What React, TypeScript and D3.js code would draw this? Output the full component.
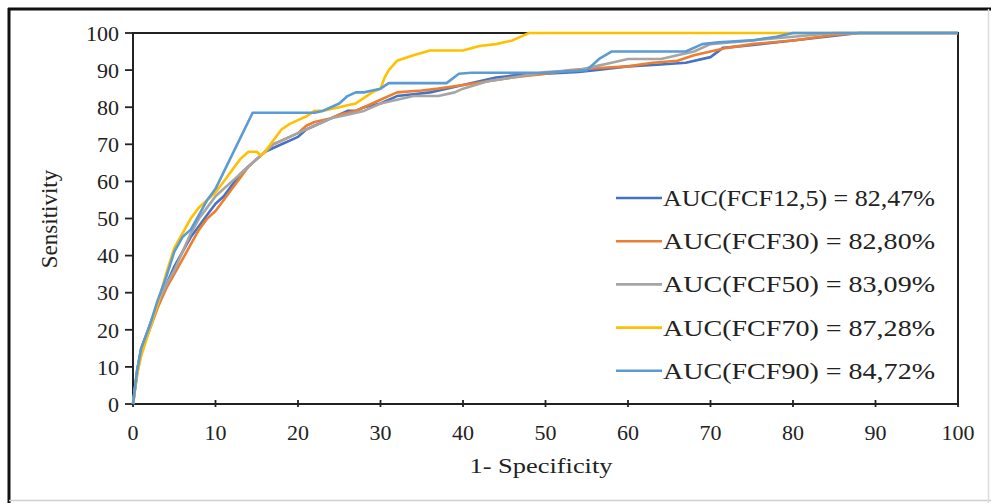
import React from "react";
import * as d3 from "d3";

const xTicks = [0, 10, 20, 30, 40, 50, 60, 70, 80, 90, 100];
const yTicks = [0, 10, 20, 30, 40, 50, 60, 70, 80, 90, 100];

const seriesNames = [
  "AUC(FCF12,5) = 82,47%",
  "AUC(FCF30) = 82,80%",
  "AUC(FCF50) = 83,09%",
  "AUC(FCF70) = 87,28%",
  "AUC(FCF90) = 84,72%",
];
const seriesColors = ["#4472C4", "#ED7D31", "#A5A5A5", "#FFC000", "#5B9BD5"];

const fcf125: [number, number][] = [
  [0, 0], [0.5, 9], [1, 15], [2, 21], [3, 27], [4, 32], [5, 37], [6, 41], [7, 45], [8, 48], [9, 51], [10, 54],
  [11, 56], [12, 59], [13, 62], [14, 64], [15, 66], [16, 68], [17, 69], [18, 70], [19, 71], [20, 72], [21, 74],
  [22, 75], [23, 76], [24, 77], [25, 78], [26, 79], [27, 79], [28, 80], [30, 81], [32, 83], [34, 83.5], [36, 84],
  [38, 85], [40, 86], [42, 87], [44, 88], [46, 88.5], [50, 89], [54, 89.5], [56, 90], [60, 91], [64, 91.5],
  [67, 92], [70, 93.5], [71.5, 96], [74, 96.5], [76, 97], [80, 98], [84, 99], [88, 100], [100, 100],
];
const fcf30: [number, number][] = [
  [0, 0], [0.5, 8], [1, 14], [2, 20], [3, 26], [4, 31], [5, 35], [6, 39], [7, 43], [8, 47], [9, 50], [10, 52],
  [11, 55], [12, 58], [13, 61], [14, 64], [15, 66], [16, 68], [17, 70], [18, 71], [19, 72], [20, 73], [21, 75],
  [22, 76], [24, 77], [25, 78], [27, 79], [28, 80], [30, 82], [32, 84], [35, 84.5], [37, 85], [40, 86], [43, 87],
  [46, 88], [50, 89], [53, 90], [56, 90.5], [60, 91], [63, 92], [66, 92.5], [68, 94], [70, 95], [72, 96],
  [75, 97], [80, 98], [85, 99.5], [88, 100], [100, 100],
];
const fcf50: [number, number][] = [
  [0, 0], [0.5, 9], [1, 15], [2, 21], [3, 27], [4, 32], [5, 36], [6, 41], [7, 46], [8, 50], [9, 53], [10, 56],
  [11, 58], [12, 60], [13, 62], [14, 64], [15, 66], [16, 68], [17, 70], [18, 71], [20, 73], [22, 75], [24, 77],
  [26, 78], [28, 79], [30, 81], [32, 82], [34, 83], [37, 83], [39, 84], [40, 85], [43, 87], [46, 88], [50, 89.5],
  [54, 90], [56, 91], [58, 92], [60, 93], [64, 93], [66, 94], [68, 95], [70, 97], [75, 98], [80, 99], [85, 100],
  [100, 100],
];
const fcf70: [number, number][] = [
  [0, 0], [0.5, 8], [1, 13], [2, 20], [3, 27], [4, 35], [5, 42], [6, 46], [7, 50], [8, 53], [9, 55], [10, 57],
  [11, 60], [12, 63], [13, 66], [14, 68], [15, 68], [15.5, 67], [16, 68], [17, 71], [18, 74], [19, 75.5],
  [20, 76.5], [21, 77.5], [22, 79], [23, 79], [24, 79.5], [25, 80], [26, 80.5], [27, 81], [28, 82.5], [29, 84],
  [30, 85], [30.5, 88], [31, 90], [32, 92.5], [34, 94], [36, 95.3], [40, 95.3], [42, 96.5], [44, 97], [46, 98],
  [48, 100], [100, 100],
];
const fcf90: [number, number][] = [
  [0, 0], [0.5, 9], [1, 15], [2, 21], [3, 28], [4, 34], [5, 41], [6, 45], [7, 47], [8, 51], [9, 55], [10, 58],
  [14.5, 78.5], [22, 78.5], [23, 79], [24, 80], [25, 81], [26, 83], [27, 84],
  [28, 84], [29, 84.5], [30, 85], [31, 86.5], [38, 86.5], [39.5, 89], [41, 89.3], [50, 89.3], [55, 90],
  [56.5, 93], [58, 95], [67, 95], [69, 97], [71, 97.5], [75, 98], [78, 99], [80, 100], [100, 100],
];
const seriesData = [fcf125, fcf30, fcf50, fcf70, fcf90];

const W = 991;
const H = 503;
const M = { left: 133, right: 958, top: 33, bottom: 404 };
const FONT = "Liberation Serif, Times New Roman, Times, serif";

export default function App() {
  const x = d3.scaleLinear().domain([0, 100]).range([M.left, M.right]);
  const y = d3.scaleLinear().domain([0, 100]).range([M.bottom, M.top]);
  const line = d3
    .line<[number, number]>()
    .x((d) => x(d[0]))
    .y((d) => y(d[1]));

  const legendX1 = 616;
  const legendX2 = 662;
  const legendY0 = 198;
  const legendStep = 43.2;
  const txt = { fontFamily: FONT, fill: "#222" } as React.CSSProperties;

  return (
    <svg
      width={W}
      height={H}
      style={{ position: "absolute", left: 0, top: 0, background: "#fff" }}
    >
      <rect x={0} y={0} width={W} height={H} fill="#fff" />
      {/* outer frame */}
      <line x1={8} y1={9} x2={W} y2={9} stroke="#111" strokeWidth={3} />
      <line x1={9} y1={8} x2={9} y2={H} stroke="#111" strokeWidth={3} />
      <line x1={9} y1={500.5} x2={W} y2={500.5} stroke="#cfcfcf" strokeWidth={1.5} />
      <line x1={988.5} y1={9} x2={988.5} y2={H} stroke="#dcdcdc" strokeWidth={1.5} />

      {/* plot frame */}
      <rect
        x={M.left}
        y={M.top}
        width={M.right - M.left}
        height={M.bottom - M.top}
        fill="none"
        stroke="#222"
        strokeWidth={2}
      />

      {/* y ticks */}
      {yTicks.map((t) => (
        <g key={"y" + t}>
          <line x1={M.left - 8} x2={M.left} y1={y(t)} y2={y(t)} stroke="#222" strokeWidth={1.8} />
          <text
            x={M.left - 14}
            y={y(t)}
            dy="0.35em"
            textAnchor="end"
            style={{ ...txt, fontSize: 22 }}
          >
            {t}
          </text>
        </g>
      ))}

      {/* x ticks */}
      {xTicks.map((t) => (
        <g key={"x" + t}>
          <line x1={x(t)} x2={x(t)} y1={M.bottom - 4} y2={M.bottom + 3} stroke="#222" strokeWidth={1.8} />
          <text x={x(t)} y={440} textAnchor="middle" style={{ ...txt, fontSize: 22 }}>
            {t}
          </text>
        </g>
      ))}

      {/* axis titles */}
      <text
        x={541}
        y={473}
        textAnchor="middle"
        style={{ ...txt, fontSize: 21 }}
        textLength={143}
        lengthAdjust="spacingAndGlyphs"
      >
        1- Specificity
      </text>
      <text
        transform={`translate(57, 219) rotate(-90)`}
        textAnchor="middle"
        style={{ ...txt, fontSize: 23 }}
      >
        Sensitivity
      </text>

      {/* curves */}
      {seriesData.map((s, i) => (
        <path
          key={"s" + i}
          d={line(s) || ""}
          fill="none"
          stroke={seriesColors[i]}
          strokeWidth={2.6}
          strokeLinejoin="round"
        />
      ))}

      {/* legend */}
      {seriesNames.map((n, i) => {
        const cy = legendY0 + i * legendStep;
        return (
          <g key={"l" + i}>
            <line x1={legendX1} x2={legendX2} y1={cy} y2={cy} stroke={seriesColors[i]} strokeWidth={2.6} />
            <text
              x={legendX2 + 1}
              y={cy + 8}
              style={{ ...txt, fontSize: 23 }}
              textLength={272}
              lengthAdjust="spacingAndGlyphs"
            >
              {n}
            </text>
          </g>
        );
      })}
    </svg>
  );
}
